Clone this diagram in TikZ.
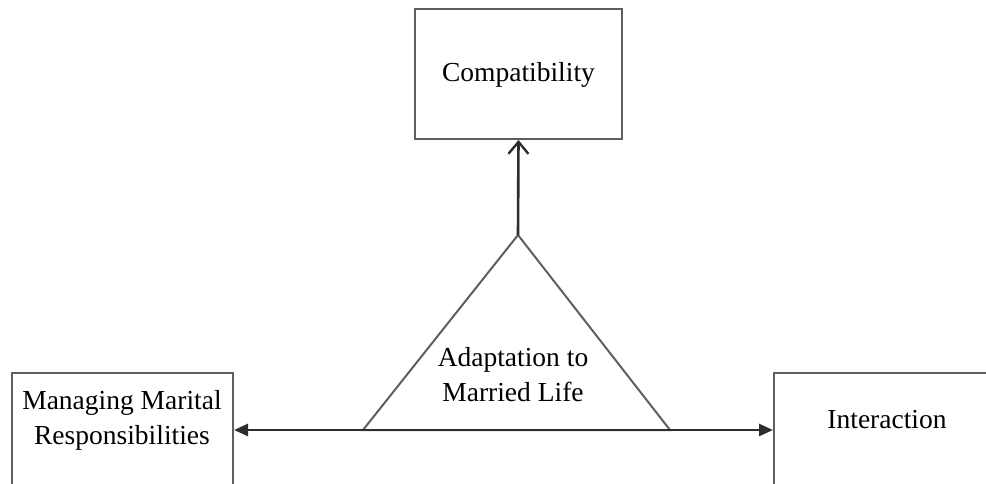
\documentclass[tikz,border=0pt]{standalone}
\usepackage{fontspec}
\setmainfont{Liberation Serif}
\usetikzlibrary{arrows.meta}
\definecolor{boxgray}{RGB}{95,95,95}
\definecolor{linedark}{RGB}{45,45,45}
\begin{document}
\begin{tikzpicture}[x=1pt,y=-1pt,
  box/.style={draw=boxgray,line width=2pt,rectangle,inner sep=0pt},
  lbl/.style={font=\fontsize{27.5}{35}\selectfont,align=center,text=black,inner sep=0pt},
  conn/.style={draw=linedark,line width=2.6pt}]
\useasboundingbox (0,0) rectangle (986,484);
\begin{scope}
\clip (0,0) rectangle (986,484);
\node[box,minimum width=207pt,minimum height=130pt] (cp) at (518.5,74) {};
\node[lbl] (cpt) at (518.5,75) {Compatibility};
\node[box,minimum width=221pt,minimum height=147pt] (mm) at (122.5,446.5) {};
\node[lbl] (mmt) at (122,420) {Managing Marital\\Responsibilities};
\node[box,minimum width=226pt,minimum height=147pt] (ia) at (887,446.5) {};
\node[lbl] (iat) at (887,420) {Interaction};
\coordinate (apex) at (518,235);
\coordinate (tl) at (363,430);
\coordinate (tr) at (670,430);
\draw[draw=boxgray,line width=2pt,line join=miter] (apex) -- (tl) -- (tr) -- cycle;
\node[lbl] (tri) at (513,375) {Adaptation to\\Married Life};
\draw[conn,{Triangle[length=14pt,width=12pt]}-{Triangle[length=14pt,width=12pt]}] (mm.east |- tl) -- (ia.west |- tl);
\draw[conn,-{Straight Barb[length=12pt,width=20pt,line width=2.4pt]}] (apex) -- (cp.south);
\end{scope}
\end{tikzpicture}
\end{document}
